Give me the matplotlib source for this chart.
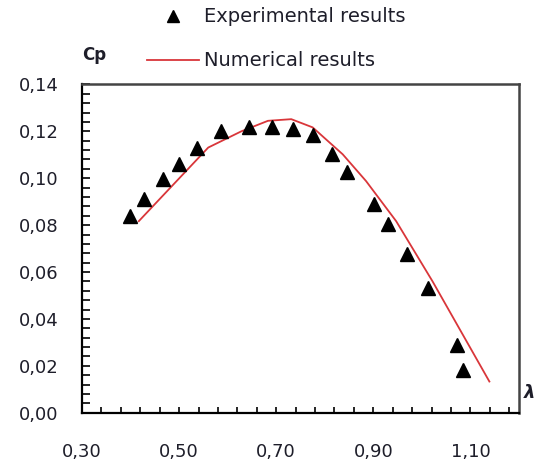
import matplotlib
matplotlib.use("Agg")
import matplotlib.pyplot as plt
from matplotlib.ticker import FixedLocator, FuncFormatter
from matplotlib.lines import Line2D
import numpy as np

# Experimental results
exp_x = [0.399, 0.428, 0.467, 0.499, 0.537, 0.586, 0.644, 0.691, 0.735,
         0.775, 0.815, 0.846, 0.902, 0.930, 0.969, 1.013, 1.072, 1.084]
exp_cp = [0.0838, 0.0913, 0.0995, 0.1060, 0.1127, 0.1200, 0.1217, 0.1219, 0.1209,
          0.1184, 0.1102, 0.1027, 0.0889, 0.0803, 0.0675, 0.0532, 0.0287, 0.0183]

# Numerical results
num_x = [0.417, 0.560, 0.628, 0.683, 0.731, 0.775, 0.837, 0.885, 0.947, 1.022, 1.139]
num_cp = [0.0817, 0.1131, 0.1200, 0.1245, 0.1252, 0.1217, 0.1102, 0.0988, 0.0817, 0.0560, 0.0133]

x_labels = [0.30, 0.50, 0.70, 0.90, 1.10]
y_labels = [0.00, 0.02, 0.04, 0.06, 0.08, 0.10, 0.12, 0.14]

txt = '#1e1e2a'
W, H = 537, 471
fig = plt.figure(figsize=(W / 100, H / 100), dpi=100)
ax = fig.add_axes([82 / W, (H - 412.7) / H, 437 / W, 328.7 / H])

ax.plot(num_x, num_cp, color='#d9363a', lw=1.3, zorder=2)
ax.plot(exp_x, exp_cp, linestyle='none', marker='^', ms=10, color='black', zorder=3)

ax.set_xlim(0.30, 1.20)
ax.set_ylim(0.0, 0.1402)

ax.xaxis.set_major_locator(FixedLocator(x_labels))
ax.xaxis.set_minor_locator(FixedLocator([0.30 + 0.04 * k for k in range(23)]))
ax.yaxis.set_major_locator(FixedLocator(y_labels))
ax.yaxis.set_minor_locator(FixedLocator([0.004 * k for k in range(36)]))

fmt = FuncFormatter(lambda v, p: f"{v:.2f}".replace('.', ','))
ax.xaxis.set_major_formatter(fmt)
ax.yaxis.set_major_formatter(fmt)

ax.tick_params(axis='x', which='both', direction='in', length=4.5, width=1.2,
               color='black', pad=22, labelsize=13, labelcolor=txt, top=False)
ax.tick_params(axis='y', which='both', direction='in', length=6, width=1.2,
               color='black', pad=17, labelsize=13, labelcolor=txt, right=False)

for s in ['left', 'bottom']:
    ax.spines[s].set_color('black')
    ax.spines[s].set_linewidth(1.6)
for s in ['top', 'right']:
    ax.spines[s].set_color('#444444')
    ax.spines[s].set_linewidth(1.8)

# axis titles
fig.text(82 / W, 1 - 55 / H, 'Cp', fontsize=12, fontweight='bold', color=txt,
         ha='left', va='center')
fig.text(524 / W, 1 - 393 / H, 'λ', fontsize=13, fontweight='bold', style='italic',
         color=txt, ha='left', va='center')

# legend (manual, Excel-like)
fig.add_artist(Line2D([173 / W], [1 - 16 / H], marker='^', ms=9, color='black',
                      linestyle='none', transform=fig.transFigure))
fig.text(204 / W, 1 - 16 / H, 'Experimental results', fontsize=14, color=txt,
         ha='left', va='center')
fig.add_artist(Line2D([147 / W, 199 / W], [1 - 60 / H, 1 - 60 / H], color='#d9363a',
                      lw=1.3, transform=fig.transFigure))
fig.text(204 / W, 1 - 61 / H, 'Numerical results', fontsize=14, color=txt,
         ha='left', va='center')

fig.savefig('out.png', dpi=100)
